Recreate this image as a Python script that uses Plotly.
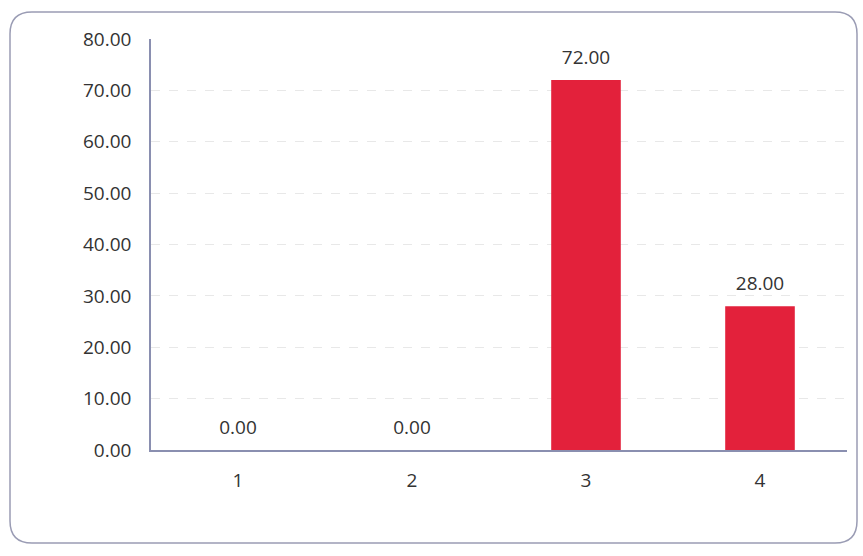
import plotly.graph_objects as go

categories = ["1", "2", "3", "4"]
values = [0.0, 0.0, 72.0, 28.0]
y_ticks = [0, 10, 20, 30, 40, 50, 60, 70, 80]

W, H = 863, 556
L, R, T, B = 151, 16, 39, 106
pw, ph = W - L - R, H - T - B

def px(x):
    return (x - L) / pw

def py(y):
    return (H - B - y) / ph

x0, x1, y0, y1 = px(10), px(857), py(12), py(543)
rx, ry = 22 / pw, 22 / ph
path = (f"M {x0+rx},{y0} L {x1-rx},{y0} Q {x1},{y0} {x1},{y0-ry} "
        f"L {x1},{y1+ry} Q {x1},{y1} {x1-rx},{y1} L {x0+rx},{y1} "
        f"Q {x0},{y1} {x0},{y1+ry} L {x0},{y0-ry} Q {x0},{y0} {x0+rx},{y0} Z")

FS = 19
fig = go.Figure()
fig.add_trace(go.Bar(
    x=categories, y=values,
    marker=dict(color="#e3213b", line=dict(width=0)),
    hoverinfo="skip",
))
fig.add_trace(go.Scatter(
    x=categories, y=values,
    mode="markers+text",
    marker=dict(size=16, opacity=0),
    text=[f"{v:.2f}" for v in values],
    textposition="top center",
    textfont=dict(size=FS, color="#333333", family="Open Sans"),
    cliponaxis=False,
))

fig.update_layout(
    width=W, height=H,
    margin=dict(l=L, r=R, t=T, b=B),
    paper_bgcolor="white", plot_bgcolor="white",
    bargap=0.6,
    showlegend=False,
    font=dict(family="Open Sans", size=FS, color="#333333"),
    shapes=[dict(type="path", xref="paper", yref="paper", path=path,
                 line=dict(color="#9a9cb4", width=1.5), layer="below")],
)
fig.update_xaxes(
    type="category", showgrid=False, showline=True, linecolor="#8a8fb0",
    linewidth=1.5, ticks="", ticklabelstandoff=12,
    tickfont=dict(size=FS, color="#333333"),
)
fig.update_yaxes(
    range=[0, 80], tickvals=y_ticks, tickformat=".2f",
    showgrid=True, gridcolor="#e8e8e8", gridwidth=1, griddash="dash",
    showline=True, linecolor="#8a8fb0", linewidth=1.5, zeroline=False,
    ticks="", ticklabelstandoff=14,
    tickfont=dict(size=FS, color="#333333"),
)

fig.write_html("out.html")
